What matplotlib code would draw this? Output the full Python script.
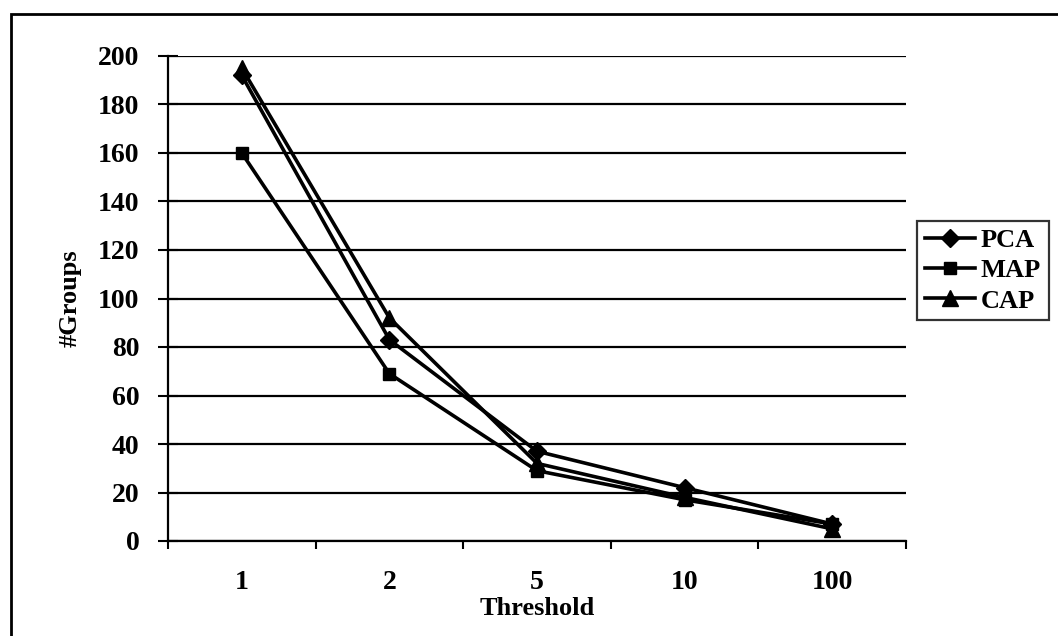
import matplotlib
matplotlib.use("Agg")
import matplotlib.pyplot as plt
from matplotlib.patches import Rectangle

categories = ["1", "2", "5", "10", "100"]
pca = [192, 83, 37, 22, 7]
map_ = [160, 69, 29, 17, 7]
cap = [195, 92, 32, 18, 5]
yticks = [0, 20, 40, 60, 80, 100, 120, 140, 160, 180, 200]

plt.rcParams['font.family'] = ['Liberation Serif', 'DejaVu Serif']
plt.rcParams['font.weight'] = 'bold'

fig = plt.figure(figsize=(10.58, 6.36), dpi=100)
W, H = 1058, 636
ax = fig.add_axes([168 / W, 1 - 541 / H, (906 - 168) / W, (541 - 56) / H])

FS = 20
x = list(range(len(categories)))
lw = 2.6
ax.plot(x, pca, color='black', lw=lw, marker='D', ms=9, label='PCA')
ax.plot(x, map_, color='black', lw=lw, marker='s', ms=9, label='MAP')
ax.plot(x, cap, color='black', lw=lw, marker='^', ms=11, label='CAP')

ax.set_xlim(-0.5, len(categories) - 0.5)
ax.set_ylim(0, 200)
ax.set_yticks(yticks)
ax.set_yticklabels([str(v) for v in yticks], fontsize=FS, fontweight='bold')
ax.set_xticks(x)
ax.set_xticklabels(categories, fontsize=FS, fontweight='bold')
ax.tick_params(axis='x', length=0, pad=21)
ax.set_xticks([i - 0.5 for i in range(len(categories) + 1)], minor=True)
ax.tick_params(axis='x', which='minor', length=6, width=1.5, direction='out')
ax.tick_params(axis='y', length=15, width=1.5, direction='inout', pad=13)

ax.grid(axis='y', color='black', lw=1.6)
ax.set_axisbelow(True)
for s in ['top', 'right']:
    ax.spines[s].set_visible(False)
for s in ['left', 'bottom']:
    ax.spines[s].set_linewidth(1.6)

ax.set_xlabel('Threshold', fontsize=19, fontweight='bold', labelpad=1)
ax.set_ylabel('#Groups', fontsize=19, fontweight='bold', labelpad=12)

leg = fig.legend(loc='upper left', bbox_to_anchor=(917 / W, 1 - 221 / H),
                 fontsize=19, frameon=True, fancybox=False, edgecolor='black',
                 handlelength=1.9, handletextpad=0.2, borderpad=0.3,
                 labelspacing=0.25, borderaxespad=0)
leg.get_frame().set_linewidth(1.6)

fig.patches.append(Rectangle((11 / W, -0.01), 1.0, 1 - 14 / H + 0.01,
                             transform=fig.transFigure, fill=False,
                             edgecolor='black', lw=2))

fig.savefig('out.png', dpi=100)
